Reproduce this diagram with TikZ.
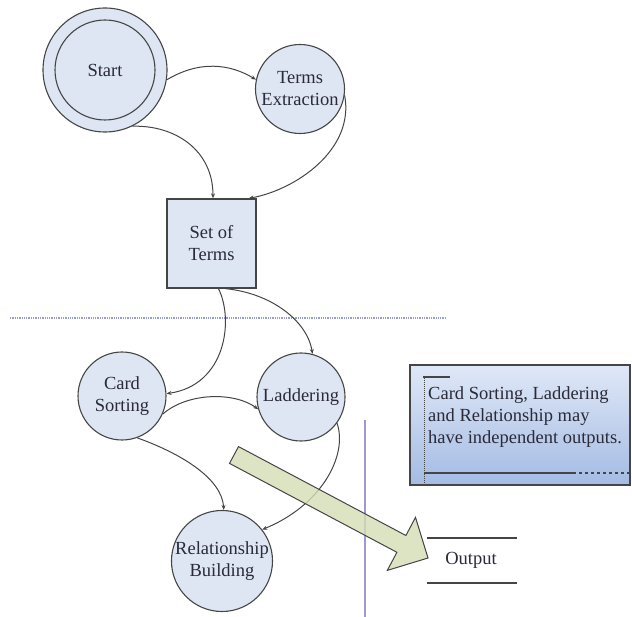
\documentclass[tikz,border=0pt]{standalone}
\usepackage{fontspec}
\setmainfont{Liberation Serif}
\usetikzlibrary{arrows.meta}
\definecolor{nodefill}{HTML}{DEE6F4}
\definecolor{edge}{HTML}{454545}
\definecolor{txt}{HTML}{2A2A38}
\definecolor{sepline}{HTML}{9A9AD6}
\definecolor{arrowfill}{HTML}{D5DDB5}
\definecolor{notetop}{HTML}{E0E8F7}
\definecolor{notebot}{HTML}{A3BBE4}
\tikzset{
  statenode/.style={circle, draw=edge, line width=1.1pt, fill=nodefill, inner sep=0pt,
    text=txt, align=center, font=\fontsize{18.5}{22}\selectfont},
  boxnode/.style={rectangle, draw=edge, line width=1.3pt, fill=nodefill, inner sep=0pt,
    minimum width=89pt, minimum height=89pt, text=txt, align=center,
    font=\fontsize{18.5}{22}\selectfont},
  conn/.style={draw=edge, line width=1pt, -{Stealth[length=5pt,width=4pt]}},
  sep/.style={draw=sepline, line width=1.3pt},
  plaintext/.style={text=txt, font=\fontsize{18.5}{22}\selectfont, inner sep=0pt}
}
\begin{document}
\begin{tikzpicture}[x=1pt,y=-1pt]
\useasboundingbox (0,0) rectangle (632,617);

% separators
\draw[sep, densely dotted] (10,318) -- (445,318);
\draw[sep] (365,420) -- (365,617);

% nodes
\node[statenode, minimum size=124pt] (start) at (105,70) {};
\node[statenode, minimum size=100pt] (startin) at (105,70) {Start};
\node[statenode, minimum size=89pt] (terms) at (300,89) {Terms\\Extraction};
\node[boxnode] (set) at (211.5,243.5) {Set of\\Terms};
\node[statenode, minimum size=88pt] (card) at (122,396) {Card\\Sorting};
\node[statenode, minimum size=88pt] (lad) at (301,397) {Laddering};
\node[statenode, minimum size=100pt] (rel) at (222,561) {Relationship\\Building};

% connectors
\draw[conn] (start.-9) .. controls (200,60) and (230,64) .. (terms.168);
\draw[conn] (start.-64) .. controls (175,125) and (213,150) .. ([xshift=1.5pt]set.north);
\draw[conn] (terms.-8) .. controls (355,150) and (295,190) .. ([xshift=-8pt]set.north east);
\draw[conn] ([xshift=7pt]set.south) .. controls (234,320) and (226,385) .. (card.3);
\draw[conn] ([xshift=14pt]set.south) .. controls (270,293) and (307,320) .. (lad.75);
\draw[conn] (card.-24) .. controls (188,392) and (235,392) .. (lad.-164);
\draw[conn] (card.-70) .. controls (185,455) and (222,480) .. (rel.88);
\draw[conn] (lad.-36) .. controls (348,455) and (322,505) .. (rel.38);

% big arrow
\draw[draw=edge, line width=1pt, fill=arrowfill, fill opacity=0.8, line join=miter]
  (229.5,463.4) -- (238.5,446.6) -- (405.9,535.5) -- (415.5,517.4) -- (428,558)
  -- (387.3,570.4) -- (396.9,552.3) -- cycle;

% note box
\node[draw=edge, line width=1.4pt, top color=notetop, bottom color=notebot,
  rectangle, minimum width=220pt, minimum height=120pt, inner sep=0pt] (note) at (520,425) {};
\draw[edge, line width=1.3pt] (423,377) -- (450,377);
\draw[edge, line width=1pt, densely dotted] (424,378) -- (424,484);
\draw[edge, line width=1.6pt] (424,473) -- (573,473);
\draw[edge, line width=1.2pt, dashed] (573,473) -- (629,473);
\node[plaintext, anchor=north west, align=left] (notetext) at (428,386)
  {Card Sorting, Laddering\\and Relationship may\\have independent outputs.};

% output
\node[plaintext] (output) at (471,560) {Output};
\draw[edge, line width=1.2pt] (427,538) -- (517,538);
\draw[edge, line width=1.2pt] (427,583) -- (517,583);
\end{tikzpicture}
\end{document}
